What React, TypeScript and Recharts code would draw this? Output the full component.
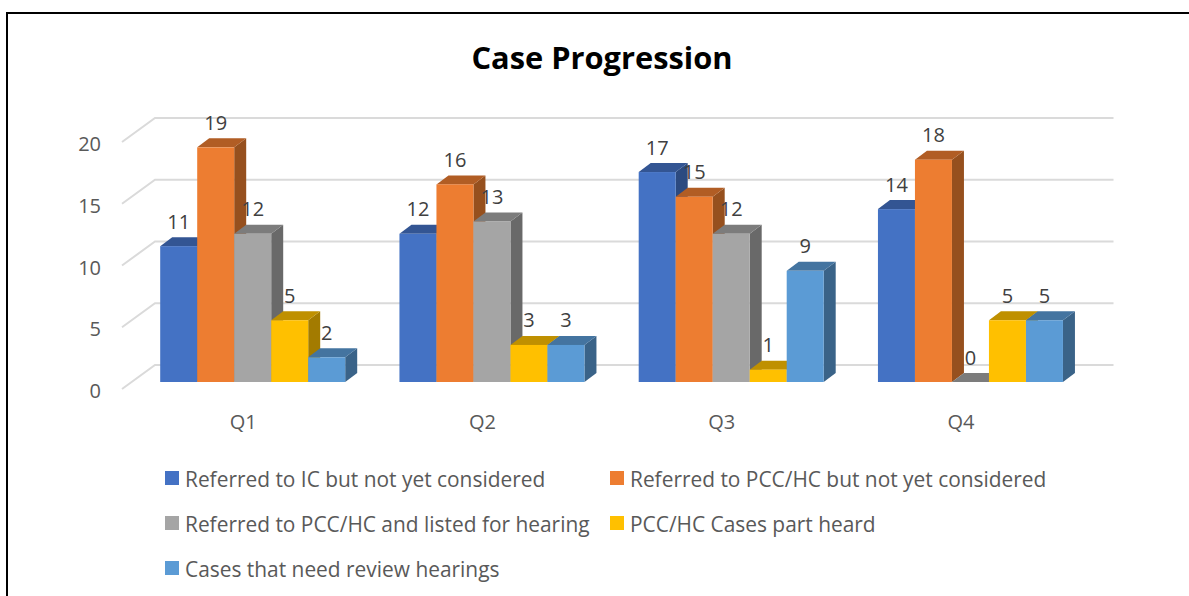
import { Bar, BarChart, CartesianGrid, LabelList, Legend, XAxis, YAxis } from 'recharts';

const QUARTERS = ['Q1', 'Q2', 'Q3', 'Q4'];
const REFERRED_IC = [11, 12, 17, 14];
const REFERRED_PCC = [19, 16, 15, 18];
const LISTED_HEARING = [12, 13, 12, 0];
const PART_HEARD = [5, 3, 1, 5];
const REVIEW_HEARINGS = [2, 3, 9, 5];
const Y_TICKS = [0, 5, 10, 15, 20];

const data = QUARTERS.map((quarter, i) => ({
  quarter,
  ic: REFERRED_IC[i],
  pcc: REFERRED_PCC[i],
  listed: LISTED_HEARING[i],
  partHeard: PART_HEARD[i],
  review: REVIEW_HEARINGS[i],
}));

const SERIES = [
  { key: 'ic', name: 'Referred to IC but not yet considered', color: '#4472C4', top: '#335593', side: '#2C4A80' },
  { key: 'pcc', name: 'Referred to PCC/HC but not yet considered', color: '#ED7D31', top: '#B15D24', side: '#96501E' },
  { key: 'listed', name: 'Referred to PCC/HC and listed for hearing', color: '#A5A5A5', top: '#7C7C7C', side: '#696969' },
  { key: 'partHeard', name: 'PCC/HC Cases part heard', color: '#FFC000', top: '#BF9000', side: '#A37B00' },
  { key: 'review', name: 'Cases that need review hearings', color: '#5B9BD5', top: '#4474A0', side: '#3A6388' },
];

const FONT = '"Open Sans", sans-serif';
const DEPTH_X = 12;
const DEPTH_Y = 9;

// floor line plus back wall line for one gridline
const GridLine = (props: any) => {
  const { x1, x2, y1 } = props;
  return (
    <g fill="none" stroke="#DADADA" strokeWidth={2}>
      <path d={`M${x1 - 10.5} ${y1 + 7}L${x1 + 22.5} ${y1 - 17}L${x2 + 24} ${y1 - 17}`} />
    </g>
  );
};

const makeBar = (top: string, side: string) => (props: any) => {
  const { x, y, width, height, fill } = props;
  const right = x + width;
  const bottom = y + height;
  return (
    <g>
      <path fill={side} d={`M${right} ${y}L${right + DEPTH_X} ${y - DEPTH_Y}L${right + DEPTH_X} ${bottom - DEPTH_Y}L${right} ${bottom}Z`} />
      <path fill={top} d={`M${x} ${y}L${x + DEPTH_X} ${y - DEPTH_Y}L${right + DEPTH_X} ${y - DEPTH_Y}L${right} ${y}Z`} />
      <rect x={x} y={y} width={width} height={height} fill={fill} />
    </g>
  );
};

const YTick = ({ x, y, payload }: any) => (
  <text x={x} y={y + 16} textAnchor="end" fontFamily={FONT} fontSize={20} fill="#595959">
    {payload.value}
  </text>
);

const XTick = ({ x, y, payload }: any) => (
  <text x={x - 9} y={y} dy={39} textAnchor="middle" fontFamily={FONT} fontSize={20} fill="#595959">
    {payload.value}
  </text>
);

const LegendContent = ({ payload }: any) => (
  <div style={{ display: 'grid', gridTemplateColumns: '445px 1fr', rowGap: 0, fontFamily: FONT, fontSize: 20.9, color: '#595959' }}>
    {(payload ?? []).map((entry: any) => (
      <div key={entry.value} style={{ display: 'flex', alignItems: 'center', height: 45, whiteSpace: 'nowrap' }}>
        <span style={{ width: 14, height: 14, background: entry.color, marginRight: 6, flex: 'none', position: 'relative', top: -1 }} />
        {entry.value}
      </div>
    ))}
  </div>
);

export default function App() {
  return (
    <div style={{ position: 'absolute', left: 0, top: 0, width: 1189, height: 596, overflow: 'hidden', background: '#fff' }}>
      <div style={{ position: 'absolute', left: 6, top: 12, right: 0, bottom: 0, borderTop: '2px solid #000', borderLeft: '2px solid #000' }} />
      <div style={{ position: 'absolute', left: 442, top: 36, width: 320, textAlign: 'center', fontFamily: FONT, fontWeight: 700, fontSize: 30.8, color: '#000', whiteSpace: 'nowrap' }}>
        Case Progression
      </div>
      <div style={{ position: 'absolute', left: 0, top: 0 }}>
        <BarChart
          width={1189}
          height={596}
          data={data}
          margin={{ top: 135, right: 99.5, bottom: 213, left: 131.5 }}
          barCategoryGap={27.7}
          barGap={0}
        >
          <CartesianGrid vertical={false} horizontal={<GridLine />} />
          <XAxis dataKey="quarter" axisLine={false} tickLine={false} height={1} tick={<XTick />} />
          <YAxis
            domain={[0, 20]}
            ticks={Y_TICKS}
            width={1}
            axisLine={false}
            tickLine={false}
            tickMargin={25.5}
            tick={<YTick />}
          />
          <Legend
            layout="vertical"
            align="center"
            verticalAlign="middle"
            itemSorter={null}
            wrapperStyle={{ left: 165, top: 456, width: 900 }}
            content={<LegendContent />}
          />
          {SERIES.map((s) => (
            <Bar
              key={s.key}
              dataKey={s.key}
              name={s.name}
              fill={s.color}
              isAnimationActive={false}
              shape={makeBar(s.top, s.side)}
            >
              <LabelList
                dataKey={s.key}
                position="top"
                offset={17.5}
                fontFamily={FONT}
                fontSize={20}
                fill="#404040"
              />
            </Bar>
          ))}
        </BarChart>
      </div>
    </div>
  );
}
